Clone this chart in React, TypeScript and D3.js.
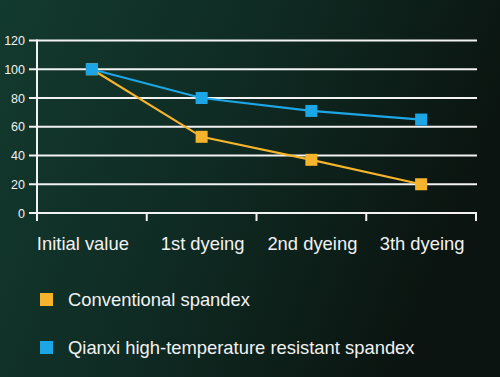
import React from "react";
import * as d3 from "d3";

const categories = ["Initial value", "1st dyeing", "2nd dyeing", "3th dyeing"];
const conventional = [100, 53, 37, 20];
const qianxi = [100, 80, 71, 65];
const yTicks = [0, 20, 40, 60, 80, 100, 120];
const seriesNames = ["Conventional spandex", "Qianxi high-temperature resistant spandex"];
const seriesColors = ["#F5B42C", "#1DA6E6"];

export default function App() {
  const W = 500, H = 377;
  const x0 = 37, x1 = 476, yTop = 40.5, yBot = 213;
  const x = d3.scaleBand<string>().domain(categories).range([x0, x1]);
  const y = d3.scaleLinear().domain([0, 120]).range([yBot, yTop]);
  const cx = (c: string) => (x(c) as number) + x.bandwidth() / 2;
  const line = d3.line<number>().x((_, i) => cx(categories[i])).y((v) => y(v));
  const series = [conventional, qianxi];
  const font = "'Liberation Sans', Arial, Helvetica, sans-serif";
  const tickXs = [...categories.map((c) => x(c) as number), x1];
  const ms = 12;
  return (
    <svg width={W} height={H} style={{ position: "absolute", left: 0, top: 0 }}>
      <defs>
        <linearGradient id="bg" x1="0" y1="0" x2="1" y2="0.3">
          <stop offset="0" stopColor="#133a2e" />
          <stop offset="0.5" stopColor="#0f2b23" />
          <stop offset="1" stopColor="#0b1410" />
        </linearGradient>
      </defs>
      <rect width={W} height={H} fill="url(#bg)" />
      {yTicks.map((t) => (
        <g key={t}>
          <line x1={29} x2={x1 + 1} y1={y(t)} y2={y(t)} stroke="#f2f2f2" strokeWidth={2} />
          <text x={25} y={y(t) + 4.5} textAnchor="end" fill="#f2f2f2" fontSize={12.5} fontFamily={font}>
            {t}
          </text>
        </g>
      ))}
      <line x1={x0} x2={x0} y1={yTop - 1} y2={yBot + 8} stroke="#f2f2f2" strokeWidth={2} />
      {tickXs.map((tx, i) => (
        <line key={i} x1={tx} x2={tx} y1={yBot} y2={yBot + 8} stroke="#f2f2f2" strokeWidth={2} />
      ))}
      {categories.map((c, i) => (
        <text key={c} x={cx(c) - (i === 0 ? 9 : -1)} y={250} textAnchor="middle" fill="#f2f2f2" fontSize={18.4} fontFamily={font}>
          {c}
        </text>
      ))}
      {series.map((s, si) => (
        <g key={si}>
          <path d={line(s) || ""} fill="none" stroke={seriesColors[si]} strokeWidth={2.2} />
          {s.map((v, i) => (
            <rect
              key={i}
              x={cx(categories[i]) - ms / 2}
              y={y(v) - ms / 2}
              width={ms}
              height={ms}
              fill={seriesColors[si]}
            />
          ))}
        </g>
      ))}
      {seriesNames.map((n, i) => (
        <g key={n}>
          <rect x={40} y={293 + i * 48} width={13} height={13} fill={seriesColors[i]} />
          <text x={68} y={306 + i * 48} fill="#f2f2f2" fontSize={18.4} fontFamily={font}>
            {n}
          </text>
        </g>
      ))}
    </svg>
  );
}
